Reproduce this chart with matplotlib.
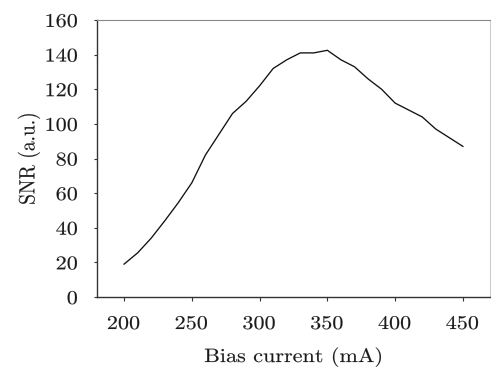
import matplotlib
matplotlib.use("Agg")
import matplotlib.pyplot as plt
from matplotlib.patheffects import AbstractPathEffect
from matplotlib.transforms import Affine2D

bias_current = [200, 210, 220, 230, 240, 250, 260, 270, 280, 290, 300, 310, 320,
                330, 340, 350, 360, 370, 380, 390, 400, 410, 420, 430, 440, 450]
snr = [19, 25.5, 34, 44, 54.5, 66, 82, 94, 106, 113, 122, 132, 137,
       141, 141, 142.5, 137, 133, 126, 120, 112, 108, 104, 97, 92, 87]
x_ticks = [200, 250, 300, 350, 400, 450]
y_ticks = [0, 20, 40, 60, 80, 100, 120, 140, 160]


class Stretch(AbstractPathEffect):
    """Stretch text glyphs along glyph-x or glyph-y and add a thin stroke."""
    def __init__(self, sx=1.0, sy=1.0, anchor='center', lw=0.1):
        super().__init__()
        self.sx, self.sy, self.anchor, self.lw = sx, sy, anchor, lw

    def draw_path(self, renderer, gc, tpath, affine, rgbFace=None):
        ext = tpath.get_extents()
        if self.anchor == 'right':
            cx = ext.x1
        else:
            cx = (ext.x0 + ext.x1) / 2
        cy = (ext.y0 + ext.y1) / 2
        t = (Affine2D().translate(-cx, -cy).scale(self.sx, self.sy)
             .translate(cx, cy) + affine)
        gc0 = renderer.new_gc()
        gc0.copy_properties(gc)
        gc0.set_linewidth(self.lw)
        if rgbFace is not None:
            gc0.set_foreground(rgbFace)
        renderer.draw_path(gc0, tpath, t, rgbFace)
        gc0.restore()


plt.rcParams['font.family'] = ['serif']
plt.rcParams['font.serif'] = ['cmr10', 'DejaVu Serif']
plt.rcParams['mathtext.fontset'] = 'cm'
plt.rcParams['axes.formatter.use_mathtext'] = True

SX = 1.14
FS = 14
TXT = '#1a1a1a'

fig = plt.figure(figsize=(4.91, 3.70), dpi=100)
ax = fig.add_axes([97/491, 1-297/370, (490-97)/491, (297-20)/370])
ax.plot(bias_current, snr, color='#111111', lw=0.95)
ax.set_xlim(180, 470)
ax.set_ylim(0, 160)
ax.set_xticks(x_ticks)
ax.set_yticks(y_ticks)
ax.tick_params(axis='both', labelsize=FS, width=0.8, color='#333333',
               labelcolor=TXT)
ax.tick_params(axis='x', pad=10, length=3)
ax.tick_params(axis='y', pad=10.5, length=2.5)
ax.set_xlabel('Bias current (mA)', fontsize=FS, labelpad=10, color=TXT)
ax.set_ylabel('SNR (a.u.)', fontsize=FS, labelpad=7, color=TXT)

for lab in ax.get_xticklabels():
    lab.set_path_effects([Stretch(sx=SX, anchor='center')])
for lab in ax.get_yticklabels():
    lab.set_path_effects([Stretch(sx=SX, anchor='right')])
ax.xaxis.label.set_path_effects([Stretch(sx=SX, anchor='center')])
ax.yaxis.label.set_path_effects([Stretch(sy=SX, anchor='center')])

ax.spines['left'].set_color('#333333')
ax.spines['bottom'].set_color('#333333')
ax.spines['left'].set_linewidth(1.0)
ax.spines['bottom'].set_linewidth(1.0)
ax.spines['top'].set_color('#888888')
ax.spines['right'].set_color('#cccccc')
fig.savefig('out.png', dpi=100)
